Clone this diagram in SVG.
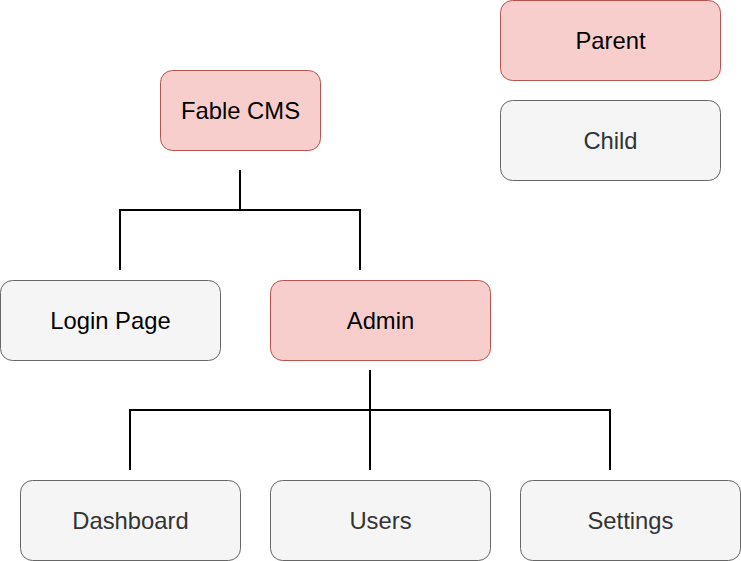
<svg xmlns="http://www.w3.org/2000/svg" width="741" height="561" viewBox="0 0 741 561">
<style>
.p{fill:#f8cecc;stroke:#b85450;stroke-width:1}
.c{fill:#f5f5f5;stroke:#666666;stroke-width:1}
text{font-family:"Liberation Sans",Arial,sans-serif;font-size:23.8px;text-anchor:middle}
.pt{fill:#000000}
.ct{fill:#333333}
.l{fill:none;stroke:#000000;stroke-width:2}
</style>
<rect width="741" height="561" fill="#ffffff"/>
<g id="connectors">
<path class="l" d="M240 170V210M120 270V210H360V270"/>
<path class="l" d="M370 370V470M130 470V410H610V470"/>
</g>
<g id="parent-legend"><rect class="p" x="500.5" y="0.5" width="220" height="80" rx="12"/><text class="pt" x="610.5" y="49.3">Parent</text></g>
<g id="child-legend"><rect class="c" x="500.5" y="100.5" width="220" height="80" rx="12"/><text class="ct" x="610.5" y="149.3">Child</text></g>
<g id="fable-cms"><rect class="p" x="160.5" y="70.5" width="160" height="80" rx="12"/><text class="pt" x="240.5" y="119.3">Fable CMS</text></g>
<g id="login-page"><rect class="c" x="0.5" y="280.5" width="220" height="80" rx="12"/><text class="pt" x="110.5" y="329.3">Login Page</text></g>
<g id="admin"><rect class="p" x="270.5" y="280.5" width="220" height="80" rx="12"/><text class="pt" x="380.5" y="329.3">Admin</text></g>
<g id="dashboard"><rect class="c" x="20.5" y="480.5" width="220" height="80" rx="12"/><text class="ct" x="130.5" y="529.3">Dashboard</text></g>
<g id="users"><rect class="c" x="270.5" y="480.5" width="220" height="80" rx="12"/><text class="ct" x="380.5" y="529.3">Users</text></g>
<g id="settings"><rect class="c" x="520.5" y="480.5" width="220" height="80" rx="12"/><text class="ct" x="630.5" y="529.3">Settings</text></g>
</svg>
